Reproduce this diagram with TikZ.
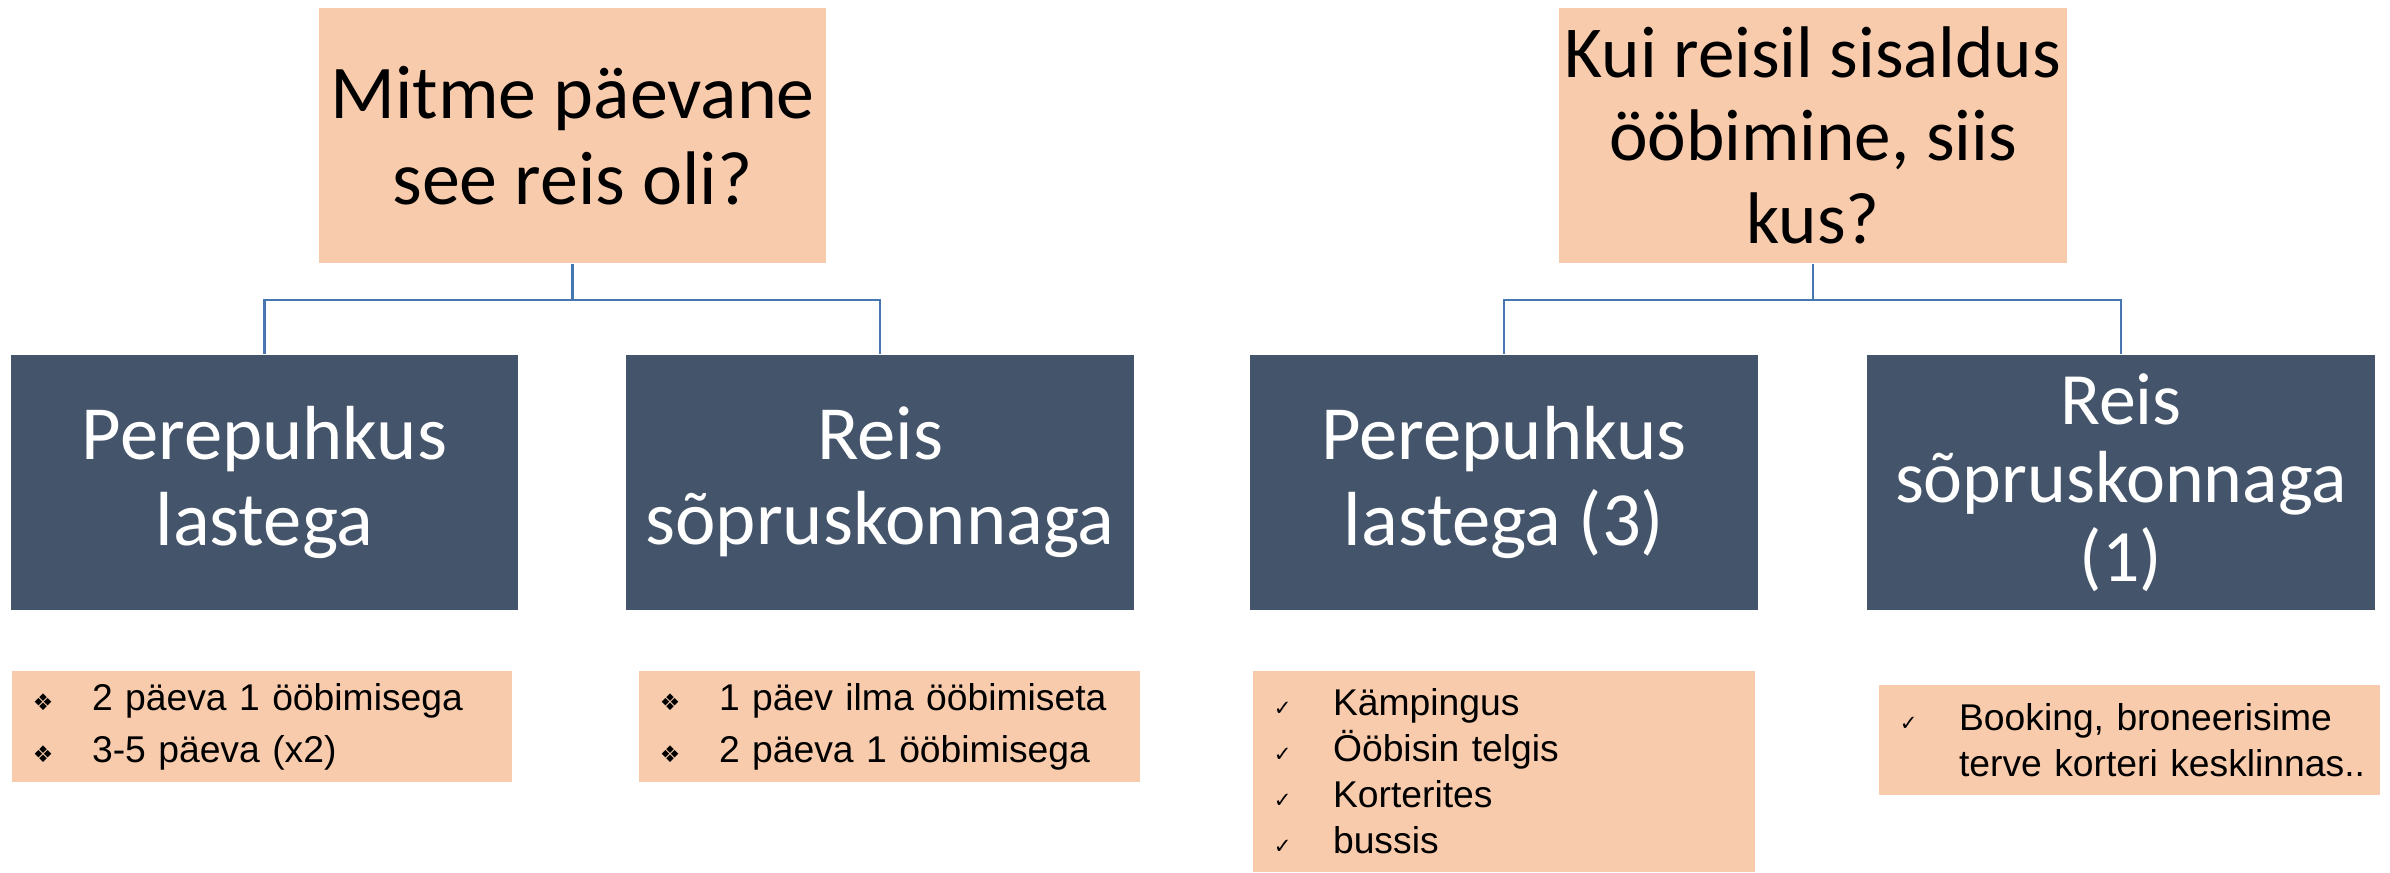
\documentclass[tikz,border=0pt]{standalone}
\usepackage{fontspec}
\setmainfont{Carlito}
\newfontfamily\arialfont{Liberation Sans}
\newfontfamily\symfont{DejaVu Sans}
\usepackage{tikz}
\newdimen\pxu \pxu=0.28453pt
\definecolor{peach}{HTML}{F8CBAD}
\definecolor{slate}{HTML}{44546A}
\definecolor{linkblue}{HTML}{4677B0}
\newcommand{\diam}{{\symfont\fontsize{6.5}{6.5}\selectfont ❖}}
\newcommand{\chk}{{\symfont\fontsize{6}{6}\selectfont ✓}}
\newcommand{\itm}[2]{\makebox[22.8pt][l]{\hspace{6pt}#1}#2}
\tikzstyle{qbox} = [fill=peach,minimum width=507\pxu,minimum height=255\pxu,inner sep=0pt,align=center]
\tikzstyle{dbox} = [fill=slate,text=white,minimum width=507\pxu,minimum height=255\pxu,inner sep=0pt,align=center,font=\fontsize{21.8}{24.2}\selectfont]
\tikzstyle{lbox} = [fill=peach,inner sep=0pt,align=left,font=\arialfont\fontsize{10.6}{14.8}\selectfont]
\tikzstyle{conn} = [draw=linkblue,line width=0.8pt]

\begin{document}
\begin{tikzpicture}[x=0.01cm,y=-0.01cm]
    \useasboundingbox (0,0) rectangle (2390,872);

    \node[qbox,font=\fontsize{21.6}{24.5}\selectfont] (q1) at (572.5,135.5) {Mitme päevane\\see reis oli?};
    \node[qbox,font=\fontsize{20.8}{23.6}\selectfont] (q2) at (1813,135.5) {Kui reisil sisaldus\\ööbimine, siis\\kus?};

    \node[dbox] (d1) at (264.5,482.5) {Perepuhkus\\lastega};
    \node[dbox,minimum width=508\pxu] (d2) at (880,482.5) {Reis\\sõpruskonnaga};
    \node[dbox] (d3) at (1504,482.5) {Perepuhkus\\lastega (3)};
    \node[dbox,minimum width=508\pxu,font=\fontsize{21}{22.4}\selectfont] (d4) at (2121,482.5) {Reis\\sõpruskonnaga\\(1)};

    \node[lbox,text width=500\pxu,minimum height=111\pxu] (l1) at (262,726.5)
        {\itm{\diam}{2 päeva 1 ööbimisega}\\\itm{\diam}{3-5 päeva (x2)}};
    \node[lbox,text width=501\pxu,minimum height=111\pxu] (l2) at (889.5,726.5)
        {\itm{\diam}{1 päev ilma ööbimiseta}\\\itm{\diam}{2 päeva 1 ööbimisega}};
    \node[lbox,text width=502\pxu,minimum height=201\pxu,font=\arialfont\fontsize{10.6}{13.1}\selectfont] (l3) at (1504,771.5)
        {\itm{\chk}{Kämpingus}\\\itm{\chk}{Ööbisin telgis}\\\itm{\chk}{Korterites}\\\itm{\chk}{bussis}};
    \node[lbox,text width=501\pxu,minimum height=110\pxu,font=\arialfont\fontsize{10.6}{13.1}\selectfont] (l4) at (2129.5,740)
        {\itm{\chk}{Booking, broneerisime}\\\hspace*{22.8pt}terve korteri kesklinnas..};

    \draw[conn] (q1.south) -- (q1.south |- 0,300) -| (d1.north);
    \draw[conn] (q1.south |- 0,300) -| (d2.north);
    \draw[conn] (q2.south) -- (q2.south |- 0,300) -| (d3.north);
    \draw[conn] (q2.south |- 0,300) -| (d4.north);

\end{tikzpicture}
\end{document}
